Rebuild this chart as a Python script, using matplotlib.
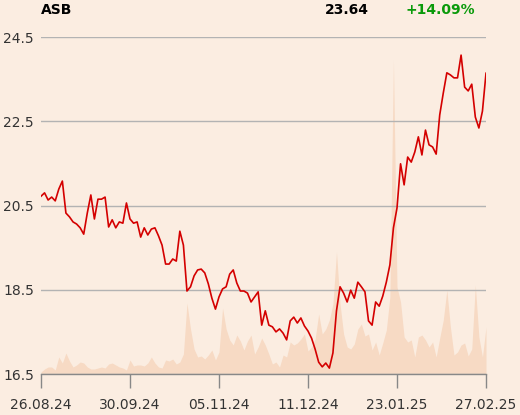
import matplotlib
matplotlib.use("Agg")
import matplotlib.pyplot as plt
import numpy as np

ticker = "ASB"
last_price = "23.64"
change = "+14.09%"

price = [20.72, 20.80, 20.63, 20.70, 20.61, 20.89, 21.08, 20.32, 20.23, 20.11,
         20.06, 19.97, 19.82, 20.32, 20.75, 20.18, 20.65, 20.65, 20.70, 19.99,
         20.16, 19.97, 20.11, 20.08, 20.56, 20.18, 20.08, 20.11, 19.75, 19.97,
         19.80, 19.94, 19.97, 19.78, 19.56, 19.11, 19.11, 19.23, 19.18, 19.89,
         19.56, 18.47, 18.57, 18.83, 18.97, 18.99, 18.90, 18.64, 18.30, 18.04,
         18.33, 18.52, 18.57, 18.87, 18.97, 18.66, 18.47, 18.47, 18.42, 18.21,
         18.33, 18.45, 17.66, 18.00, 17.66, 17.62, 17.50, 17.57, 17.47, 17.31,
         17.76, 17.85, 17.71, 17.83, 17.64, 17.52, 17.35, 17.09, 16.78, 16.67,
         16.76, 16.64, 17.00, 18.00, 18.57, 18.42, 18.21, 18.49, 18.30, 18.68,
         18.57, 18.45, 17.76, 17.66, 18.21, 18.11, 18.35, 18.68, 19.09, 19.97,
         20.44, 21.49, 20.99, 21.65, 21.53, 21.77, 22.13, 21.70, 22.29, 21.94,
         21.89, 21.72, 22.65, 23.17, 23.65, 23.60, 23.53, 23.53, 24.07, 23.31,
         23.22, 23.38, 22.60, 22.34, 22.74, 23.64]

volume = [2, 5, 7, 7, 4, 17, 11, 21, 13, 7,
          9, 12, 11, 7, 5, 5, 6, 7, 6, 10,
          11, 9, 7, 6, 4, 14, 8, 9, 9, 8,
          11, 17, 11, 7, 6, 14, 13, 15, 10, 12,
          20, 71, 45, 25, 17, 18, 15, 19, 24, 14,
          22, 66, 45, 34, 29, 39, 33, 24, 33, 39,
          20, 27, 36, 29, 20, 10, 12, 7, 19, 17,
          32, 29, 31, 35, 40, 23, 27, 35, 60, 40,
          45, 54, 70, 122, 70, 40, 27, 25, 30, 45,
          50, 38, 40, 24, 32, 19, 31, 44, 77, 314,
          87, 72, 37, 32, 34, 17, 37, 39, 34, 27,
          32, 17, 36, 54, 84, 47, 19, 22, 29, 31,
          18, 25, 89, 37, 17, 47]

yticks = [16.5, 18.5, 20.5, 22.5, 24.5]
xtick_labels = ["26.08.24", "30.09.24", "05.11.24", "11.12.24", "23.01.25", "27.02.25"]
xtick_pos = [0, 25, 50, 75, 100, 125]

bg = "#FBEDE1"
W, H = 520, 415
fig = plt.figure(figsize=(W / 100, H / 100), dpi=100, facecolor=bg)
ax = fig.add_axes([41 / W, 1 - 374 / H, (486 - 41) / W, (374 - 37) / H])
ax.set_facecolor(bg)

x = np.arange(len(price))

axv = ax.twinx()
axv.fill_between(x, volume, 0, color="#F7DAC4", lw=0, zorder=1)
axv.set_ylim(0, 337)
axv.set_axis_off()

ax.set_zorder(axv.get_zorder() + 1)
ax.patch.set_visible(False)
axv.patch.set_visible(False)
ax_bg = fig.add_axes(ax.get_position(), zorder=-5)
ax_bg.set_facecolor(bg)
ax_bg.set_axis_off()

for yt in yticks:
    ax.axhline(yt, color="#B3B3B3", lw=1, zorder=2)
ax.plot(x, price, color="#D40000", lw=1.2, zorder=3)

ax.set_xlim(0, len(price) - 1)
ax.set_ylim(16.5, 24.5)
ax.set_yticks(yticks)
ax.set_yticklabels([f"{v:.1f}" for v in yticks])
ax.set_xticks(xtick_pos)
ax.set_xticklabels(xtick_labels)
ax.tick_params(axis="y", length=0, pad=5, labelsize=10, labelcolor="#333333")
ax.tick_params(axis="x", length=10, width=1, color="#888888", pad=7,
               labelsize=10, labelcolor="#333333", direction="out")
for s in ["top", "right", "left"]:
    ax.spines[s].set_visible(False)
ax.spines["bottom"].set_color("#888888")
ax.spines["bottom"].set_linewidth(1)
ax.spines["bottom"].set_zorder(4)

fig.text(41 / W, 1 - 10 / H, ticker, fontsize=10, fontweight="bold", va="center", ha="left", color="#000000")
fig.text(369 / W, 1 - 10 / H, last_price, fontsize=10, fontweight="bold", va="center", ha="right", color="#000000")
fig.text(475 / W, 1 - 10 / H, change, fontsize=10, fontweight="bold", va="center", ha="right", color="#0A9A0A")

fig.savefig("out.png", dpi=100, facecolor=bg)
